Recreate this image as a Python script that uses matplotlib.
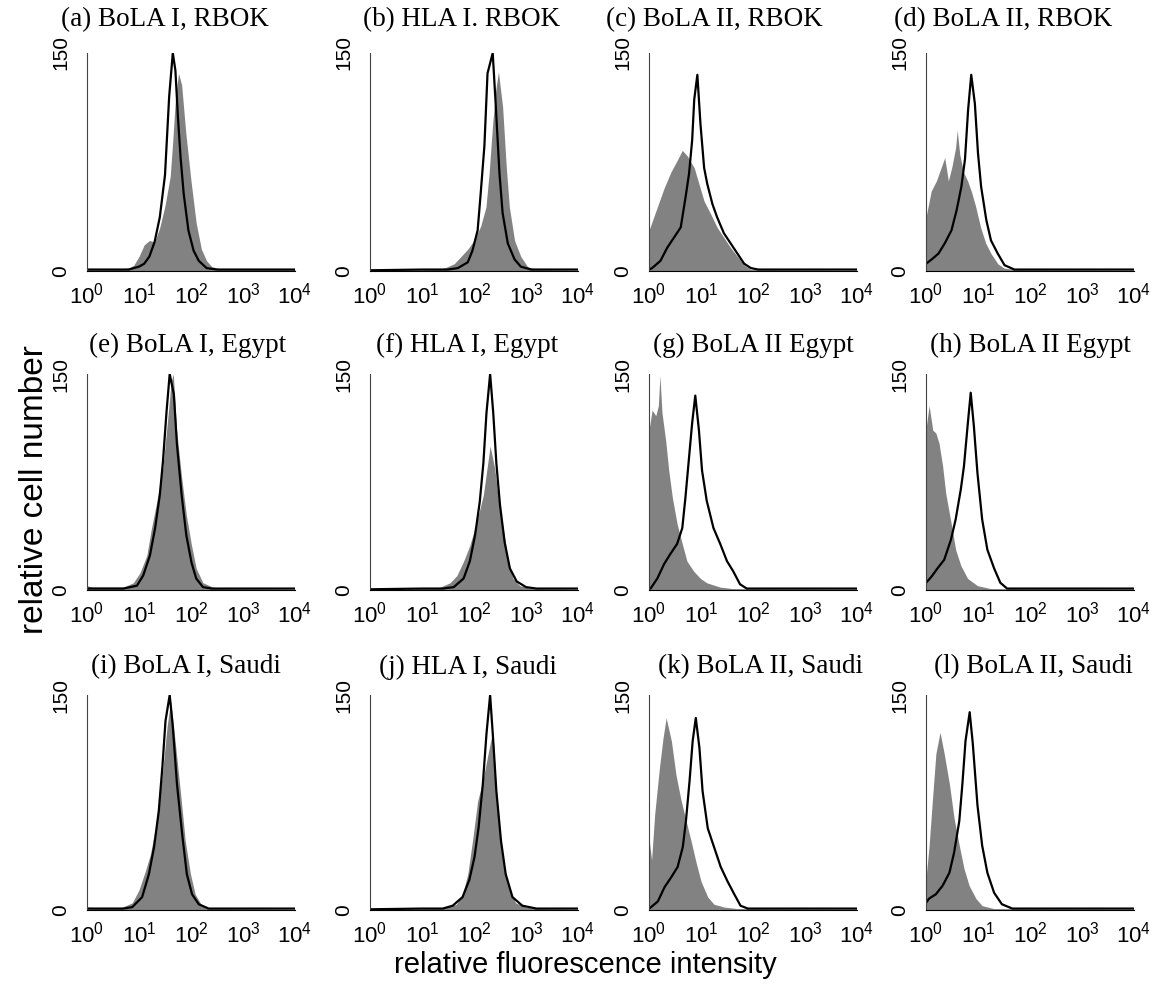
### 세포 표면 MHC 발현 히스토그램 (BoLA I / HLA I / BoLA II) 12개 패널
import numpy as np
import matplotlib.pyplot as plt
import matplotlib as mpl

# 글꼴 설정
mpl.rcParams['font.family'] = ['Liberation Sans', 'DejaVu Sans']
mpl.rcParams['mathtext.fontset'] = 'custom'
mpl.rcParams['mathtext.rm'] = 'Liberation Sans'

# 패널 제목
titles = ['(a) BoLA I, RBOK', '(b) HLA I. RBOK', '(c) BoLA II, RBOK', '(d) BoLA II, RBOK',
          '(e) BoLA I, Egypt', '(f) HLA I, Egypt', '(g) BoLA II Egypt', '(h) BoLA II Egypt',
          '(i) BoLA I, Saudi', '(j) HLA I, Saudi', '(k) BoLA II, Saudi', '(l) BoLA II, Saudi']
x_ticks = [1, 10, 100, 1000, 10000]
x_ticklabels = [r'$\mathregular{10^{0}}$', r'$\mathregular{10^{1}}$', r'$\mathregular{10^{2}}$',
                r'$\mathregular{10^{3}}$', r'$\mathregular{10^{4}}$']
y_ticks = [0, 150]
y_ticklabels = ['0', '150']

# 히스토그램 값: (log10 형광세기, 세포수)  line = 검은 선, fill = 회색 채움
a_line = [(0.0, 1), (0.8, 1), (1.0, 3), (1.1, 5), (1.2, 10), (1.3, 20), (1.4, 37), (1.5, 66),
          (1.58, 120), (1.65, 150), (1.7, 138), (1.75, 105), (1.8, 78), (1.86, 53), (1.95, 28),
          (2.05, 14), (2.15, 7), (2.3, 2), (2.5, 1), (4.0, 1)]
a_fill = [(0.0, 1), (0.5, 1), (0.8, 2), (0.9, 4), (1.0, 10), (1.1, 18), (1.2, 21), (1.3, 20),
          (1.4, 30), (1.5, 45), (1.6, 65), (1.65, 90), (1.7, 118), (1.76, 136), (1.82, 128),
          (1.9, 95), (2.0, 62), (2.1, 33), (2.2, 15), (2.3, 7), (2.4, 3), (2.6, 1), (4.0, 1)]

b_line = [(0.0, 0.5), (1.0, 1), (1.5, 1), (1.69, 2), (1.88, 6), (1.97, 14), (2.07, 28), (2.13, 54),
          (2.2, 86), (2.26, 136), (2.36, 150), (2.42, 113), (2.49, 67), (2.55, 40), (2.65, 19),
          (2.78, 8), (2.9, 3), (3.1, 1), (4.0, 1)]
b_fill = [(0.0, 0.5), (1.2, 1), (1.43, 2), (1.62, 5), (1.75, 10), (1.88, 15), (2.0, 21),
          (2.13, 31), (2.23, 44), (2.29, 67), (2.36, 102), (2.42, 125), (2.47, 137), (2.55, 113),
          (2.62, 72), (2.68, 44), (2.78, 21), (2.9, 10), (3.03, 3), (3.2, 1), (4.0, 0.5)]

c_line = [(0.0, 1), (0.06, 2), (0.22, 7), (0.35, 16), (0.48, 23), (0.61, 30), (0.7, 50),
          (0.77, 67), (0.83, 90), (0.87, 118), (0.93, 135), (0.99, 101), (1.06, 71), (1.12, 60),
          (1.22, 46), (1.31, 37), (1.44, 26), (1.57, 19), (1.7, 12), (1.83, 5), (1.96, 2),
          (2.1, 1), (4.0, 1)]
c_fill = [(0.0, 28), (0.16, 44), (0.29, 57), (0.42, 68), (0.54, 76), (0.64, 83), (0.74, 79),
          (0.87, 71), (0.96, 60), (1.06, 48), (1.19, 39), (1.31, 30), (1.44, 23), (1.57, 16),
          (1.7, 10), (1.83, 4), (1.96, 1), (4.0, 0.5)]

d_line = [(0.0, 5), (0.11, 8), (0.24, 12), (0.36, 19), (0.49, 28), (0.59, 42), (0.68, 58),
          (0.75, 77), (0.81, 111), (0.87, 135), (0.94, 115), (1.0, 81), (1.06, 58), (1.16, 35),
          (1.25, 21), (1.38, 12), (1.51, 4), (1.7, 1), (4.0, 1)]
d_fill = [(0.0, 37), (0.1, 55), (0.2, 62), (0.3, 72), (0.36, 78), (0.43, 62), (0.5, 72),
          (0.57, 85), (0.6, 97), (0.65, 80), (0.72, 68), (0.8, 62), (0.87, 55), (0.95, 45),
          (1.05, 30), (1.15, 19), (1.25, 12), (1.38, 5), (1.5, 2), (1.7, 1), (4.0, 0.5)]

e_line = [(0.0, 1), (0.7, 1), (0.96, 3), (1.08, 10), (1.21, 24), (1.31, 43), (1.4, 66),
          (1.46, 89), (1.53, 124), (1.59, 150), (1.67, 136), (1.73, 101), (1.82, 66), (1.91, 38),
          (2.01, 19), (2.1, 8), (2.23, 2), (2.4, 1), (4.0, 1)]
e_fill = [(0.0, 3), (0.1, 2), (0.7, 2), (0.89, 5), (1.02, 12), (1.15, 24), (1.24, 43),
          (1.34, 61), (1.46, 85), (1.55, 118), (1.62, 145), (1.66, 150), (1.72, 112), (1.82, 78),
          (1.91, 52), (2.01, 31), (2.1, 15), (2.23, 5), (2.42, 2), (2.6, 1), (4.0, 0.5)]

f_line = [(0.0, 0.5), (1.0, 1), (1.4, 1), (1.61, 2), (1.8, 8), (1.92, 20), (2.02, 38),
          (2.11, 61), (2.18, 88), (2.24, 123), (2.31, 150), (2.37, 123), (2.43, 88), (2.5, 59),
          (2.59, 33), (2.69, 15), (2.82, 6), (3.0, 2), (3.2, 1), (4.0, 1)]
f_fill = [(0.0, 0.5), (1.2, 1), (1.35, 2), (1.54, 5), (1.67, 10), (1.8, 20), (1.92, 31),
          (2.05, 47), (2.18, 66), (2.31, 100), (2.4, 84), (2.46, 66), (2.56, 43), (2.66, 20),
          (2.75, 8), (2.88, 3), (3.1, 1), (4.0, 0.5)]

g_line = [(0.0, 1), (0.03, 1), (0.16, 8), (0.29, 18), (0.41, 25), (0.54, 32), (0.64, 43),
          (0.7, 64), (0.76, 88), (0.83, 116), (0.89, 135), (0.96, 111), (1.02, 83), (1.11, 62),
          (1.24, 43), (1.37, 32), (1.5, 20), (1.62, 13), (1.75, 4), (1.88, 1), (4.0, 1)]
g_fill = [(0.0, 111), (0.06, 125), (0.13, 121), (0.18, 128), (0.21, 149), (0.25, 123),
          (0.32, 104), (0.38, 83), (0.45, 64), (0.54, 46), (0.64, 32), (0.73, 20), (0.86, 13),
          (0.99, 8), (1.11, 5), (1.37, 2), (1.6, 1), (4.0, 0.5)]

h_line = [(0.0, 5), (0.1, 9), (0.22, 15), (0.35, 21), (0.48, 35), (0.57, 49), (0.67, 70),
          (0.73, 86), (0.8, 114), (0.86, 137), (0.92, 114), (0.99, 81), (1.08, 49), (1.18, 28),
          (1.31, 15), (1.43, 5), (1.56, 1), (4.0, 1)]
h_fill = [(0.0, 112), (0.06, 128), (0.13, 111), (0.19, 109), (0.25, 102), (0.32, 86),
          (0.38, 67), (0.48, 47), (0.57, 28), (0.67, 17), (0.8, 8), (0.99, 3), (1.24, 1), (4.0, 0.5)]

i_line = [(0.0, 1), (0.7, 1), (0.87, 2), (1.06, 9), (1.19, 25), (1.29, 44), (1.38, 69),
          (1.45, 100), (1.51, 132), (1.59, 150), (1.65, 128), (1.73, 88), (1.83, 53), (1.92, 25),
          (2.02, 11), (2.15, 4), (2.34, 1), (4.0, 1)]
i_fill = [(0.0, 2), (0.5, 1), (0.68, 2), (0.87, 5), (1.0, 14), (1.13, 28), (1.22, 39),
          (1.32, 58), (1.45, 95), (1.54, 128), (1.61, 146), (1.7, 116), (1.8, 81), (1.89, 48),
          (1.99, 25), (2.08, 11), (2.21, 3), (2.4, 1), (4.0, 0.5)]

j_line = [(0.0, 0.5), (1.0, 1), (1.4, 1), (1.59, 3), (1.78, 9), (1.91, 21), (2.01, 37),
          (2.09, 58), (2.17, 88), (2.24, 123), (2.31, 150), (2.37, 118), (2.43, 83), (2.52, 48),
          (2.61, 25), (2.74, 9), (2.93, 3), (3.2, 1), (4.0, 1)]
j_fill = [(0.0, 0.5), (1.4, 1), (1.66, 4), (1.78, 11), (1.88, 25), (1.97, 48), (2.07, 76),
          (2.17, 90), (2.26, 107), (2.36, 125), (2.42, 90), (2.48, 58), (2.58, 30), (2.68, 14),
          (2.8, 5), (3.0, 2), (3.2, 1), (4.0, 0.5)]

k_line = [(0.0, 1), (0.04, 2), (0.17, 6), (0.3, 16), (0.43, 23), (0.55, 30), (0.65, 44),
          (0.71, 62), (0.78, 90), (0.84, 118), (0.9, 134), (0.97, 113), (1.03, 83), (1.13, 57),
          (1.25, 44), (1.38, 30), (1.51, 20), (1.64, 11), (1.76, 3), (1.9, 1), (4.0, 1)]
k_fill = [(0.0, 50), (0.05, 35), (0.11, 67), (0.2, 99), (0.27, 120), (0.33, 134), (0.43, 118),
          (0.52, 94), (0.62, 76), (0.68, 67), (0.81, 48), (0.9, 34), (1.0, 20), (1.13, 9),
          (1.25, 4), (1.45, 2), (1.7, 1), (4.0, 0.5)]

l_line = [(0.0, 5), (0.06, 8), (0.19, 11), (0.32, 17), (0.45, 26), (0.54, 40), (0.64, 62),
          (0.7, 88), (0.76, 118), (0.84, 138), (0.9, 116), (0.99, 73), (1.08, 45), (1.18, 26),
          (1.31, 12), (1.46, 4), (1.66, 1), (4.0, 1)]
l_fill = [(0.0, 22), (0.06, 45), (0.13, 80), (0.19, 109), (0.27, 124), (0.35, 109), (0.45, 88),
          (0.54, 64), (0.64, 45), (0.73, 29), (0.83, 17), (0.96, 8), (1.08, 3), (1.3, 1), (4.0, 0.5)]

lines = [a_line, b_line, c_line, d_line, e_line, f_line, g_line, h_line, i_line, j_line, k_line, l_line]
fills = [a_fill, b_fill, c_fill, d_fill, e_fill, f_fill, g_fill, h_fill, i_fill, j_fill, k_fill, l_fill]

# 레이아웃 (픽셀 기준)
W, H = 1163, 997
col_left = [87, 370, 649, 926]
ax_w = 208
row_top = [53, 374, 695]
row_bot = [271, 590, 910]
title_x = [[165, 462, 714, 1003], [188, 467, 753, 1030], [186, 468, 761, 1033]]
title_y = [20, 345, 667]

fig = plt.figure(figsize=(W / 100, H / 100), dpi=100)

for n in range(12):
    r, c = divmod(n, 4)
    ax = fig.add_axes([col_left[c] / W, 1 - row_bot[r] / H, ax_w / W, (row_bot[r] - row_top[r]) / H])

    fx, fy = np.array(fills[n]).T
    lx, ly = np.array(lines[n]).T
    ax.fill_between(10 ** fx, fy, 0, color='#828282', lw=0)
    ax.plot(10 ** lx, ly, color='black', lw=1.6)

    ax.set_xscale('log')
    ax.set_xlim(1, 1e4)
    ax.set_ylim(0, 150)
    ax.set_xticks(x_ticks)
    ax.set_xticklabels(x_ticklabels, fontsize=16)
    ax.minorticks_off()
    ax.set_yticks(y_ticks)
    ax.set_yticklabels(y_ticklabels, fontsize=15, rotation=90, va='center')
    ax.tick_params(length=0)
    ax.tick_params(axis='y', pad=12)
    ax.tick_params(axis='x', pad=8)
    for s in ['top', 'right']:
        ax.spines[s].set_visible(False)
    ax.spines['left'].set_linewidth(0.8)
    ax.spines['left'].set_color('#444444')
    ax.spines['bottom'].set_linewidth(0.8)

    fig.text(title_x[r][c] / W, 1 - title_y[r] / H, titles[n], ha='center', va='center',
             fontsize=19.5, family='Liberation Serif')

fig.text(35 / W, 1 - 490 / H, 'relative cell number', rotation=90, ha='center', va='center', fontsize=24)
fig.text(585 / W, 1 - 965 / H, 'relative fluorescence intensity', ha='center', va='center', fontsize=21)

plt.savefig('out.png', dpi=100)
